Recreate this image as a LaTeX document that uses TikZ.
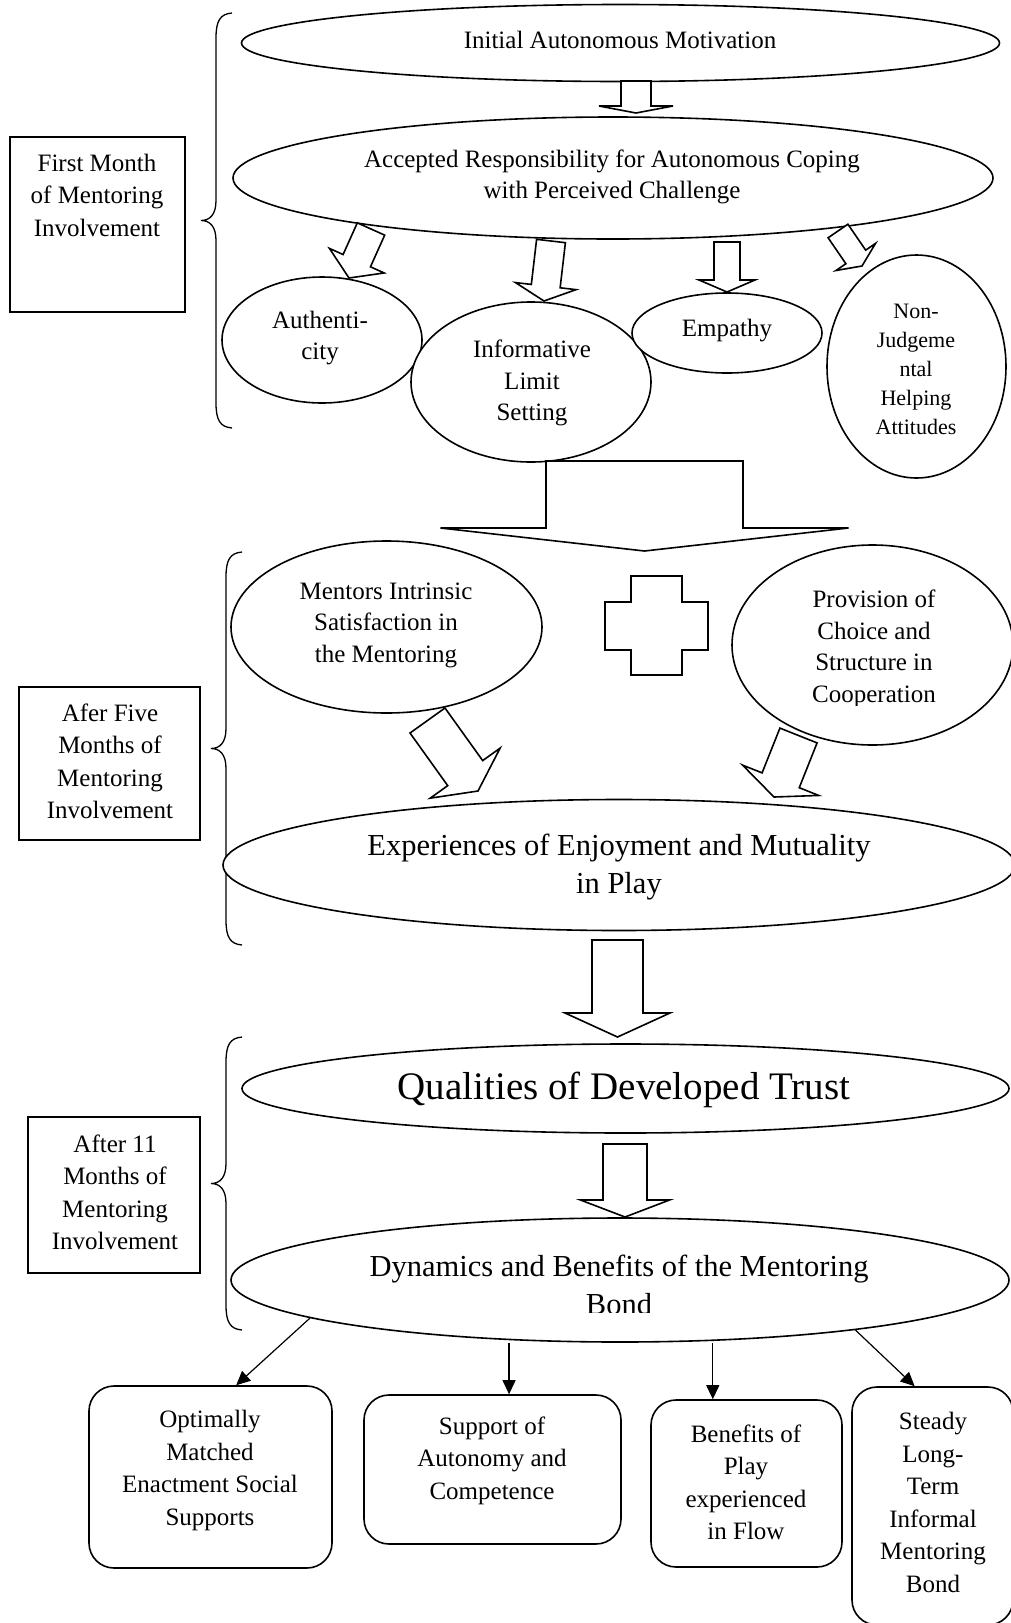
\documentclass[tikz,border=0pt]{standalone}
\usepackage{fontspec}
\setmainfont{Liberation Serif}
\usetikzlibrary{calc,shapes.geometric,arrows.meta}

\tikzset{
  oval/.style={ellipse, draw, line width=1.6pt, fill=white, inner sep=0pt, align=center},
  txt/.style={align=center, inner sep=0pt, font=\fontsize{25}{31.5}\selectfont},
  txtsmall/.style={align=center, inner sep=0pt, font=\fontsize{22}{29}\selectfont},
  txtbig/.style={align=center, inner sep=0pt, font=\fontsize{30.5}{38.5}\selectfont},
  txthuge/.style={align=center, inner sep=0pt, font=\fontsize{39}{46}\selectfont},
  txtbox/.style={align=center, inner sep=0pt, font=\fontsize{25}{32.5}\selectfont},
  sidebox/.style={draw, line width=1.6pt, inner sep=0pt},
  outbox/.style={draw, line width=1.6pt, rounded corners=25pt, inner sep=0pt},
  hollow/.style={draw, line width=1.6pt, fill=white, line join=miter},
  link/.style={line width=1.2pt, -{Triangle[length=14pt,width=13pt]}},
  bracestroke/.style={line width=1.3pt},
}

% hollow block arrow: #1 start (middle of shaft end), #2 tip,
% #3 shaft half width, #4 head half width, #5 head length
\newcommand\hollowarrow[5]{%
  \coordinate (ha-base) at ($(#2)!#5!(#1)$);
  \draw[hollow] ($(#1)!#3!90:(#2)$) -- ($(ha-base)!#3!90:(#2)$)
    -- ($(ha-base)!#4!90:(#2)$) -- (#2) -- ($(ha-base)!#4!-90:(#2)$)
    -- ($(ha-base)!#3!-90:(#2)$) -- ($(#1)!#3!-90:(#2)$) -- cycle;
}

% curly brace opening to the right: #1 x of the ends, #2 top, #3 bottom
\newcommand\sidebrace[3]{%
  \draw[bracestroke] (#1,#2) .. controls ({#1-12},{#2+1}) and ({#1-16},{#2+8}) .. ({#1-16},{#2+25})
    -- ({#1-16},{(#2+#3)/2-20}) .. controls ({#1-16},{(#2+#3)/2-6}) and ({#1-22},{(#2+#3)/2}) .. ({#1-31},{(#2+#3)/2})
    .. controls ({#1-22},{(#2+#3)/2}) and ({#1-16},{(#2+#3)/2+6}) .. ({#1-16},{(#2+#3)/2+20})
    -- ({#1-16},{#3-25}) .. controls ({#1-16},{#3-8}) and ({#1-12},{#3-1}) .. (#1,#3);
}

\begin{document}
\begin{tikzpicture}[x=1pt,y=-1pt]
\useasboundingbox (0,0) rectangle (1011,1623);
\fill[white] (0,0) rectangle (1011,1623);
\clip (0,0) rectangle (1011,1623);

% ---------- first month ----------
\node[oval, minimum width=758pt, minimum height=77pt] (init) at (620.5,43) {};
\node[txt] (init-t) at (620,40) {Initial Autonomous Motivation};

\node[oval, minimum width=760pt, minimum height=122pt] (acc) at (613,178) {};
\node[txt] (acc-t) at (612,177) {Accepted Responsibility for Autonomous Coping\\with Perceived Challenge};

\node[oval, minimum width=200pt, minimum height=126pt] (auth) at (322,340) {};
\node[txt] (auth-t) at (320,338) {Authenti-\\city};

\node[oval, minimum width=240pt, minimum height=160pt] (info) at (531,382) {};
\begin{scope}
  \clip (400,300) rectangle (660,425);
  \node[txt] (info-t) at (532,383) {Informative\\Limit\\Setting};
\end{scope}

\node[oval, minimum width=190pt, minimum height=80pt] (emp) at (727,333) {};
\node[txt] (emp-t) at (727,331) {Empathy};

\node[oval, minimum width=179pt, minimum height=223pt] (nonj) at (916.5,366.5) {};
\node[txtsmall] (nonj-t) at (916,369) {Non-\\Judgeme\\ntal\\Helping\\Attitudes};

\node[sidebox, minimum width=175pt, minimum height=175pt] (m1) at (97.5,224.5) {};
\node[txtbox] (m1-t) at (97,195) {First Month\\of Mentoring\\Involvement};
\sidebrace{232}{13}{428}

\coordinate (a0s) at (636,81);   \coordinate (a0t) at (636,113);
\coordinate (a1s) at (371,229);  \coordinate (a1t) at (349,278);
\coordinate (a2s) at (551,241);  \coordinate (a2t) at (544,301);
\coordinate (a3s) at (727,242);  \coordinate (a3t) at (727,292);
\coordinate (a4s) at (838,231);  \coordinate (a4t) at (862,266);
\hollowarrow{a0s}{a0t}{15pt}{37pt}{7pt}
\hollowarrow{a1s}{a1t}{15pt}{30pt}{19pt}
\hollowarrow{a2s}{a2t}{14.5pt}{30.5pt}{15pt}
\hollowarrow{a3s}{a3t}{13pt}{28pt}{12pt}
\hollowarrow{a4s}{a4t}{12pt}{24pt}{11pt}

% ---------- after five months ----------
\coordinate (bigs) at (644.5,461); \coordinate (bigt) at (644.5,551);
\hollowarrow{bigs}{bigt}{98.5pt}{204pt}{23pt}

\node[oval, minimum width=311pt, minimum height=172pt] (ment) at (386.5,627) {};
\node[txt] (ment-t) at (386,625) {Mentors Intrinsic\\Satisfaction in\\the Mentoring};

\draw[line width=1.6pt] (631,576) -- (682,576) -- (682,602) -- (708,602) -- (708,650)
  -- (682,650) -- (682,675) -- (631,675) -- (631,650) -- (605,650) -- (605,602)
  -- (631,602) -- cycle;

\node[oval, minimum width=281pt, minimum height=200pt] (prov) at (872.5,645) {};
\begin{scope}
  \clip (740,560) rectangle (1011,705);
  \node[txt] (prov-t) at (874,649) {Provision of\\Choice and\\Structure in\\Cooperation};
\end{scope}

\node[sidebox, minimum width=181pt, minimum height=153pt] (m2) at (109.5,763.5) {};
\node[txtbox] (m2-t) at (110,761.5) {Afer Five\\Months of\\Mentoring\\Involvement};
\sidebrace{242}{552}{945}

\node[oval, minimum width=792pt, minimum height=131pt] (exp) at (619,865) {};
\node[txtbig] (exp-t) at (619,867) {Experiences of Enjoyment and Mutuality\\in Play};

\coordinate (a5s) at (427.5,720.5); \coordinate (a5t) at (478,791);
\coordinate (a6s) at (798.5,735.5); \coordinate (a6t) at (774,797);
\hollowarrow{a5s}{a5t}{21.5pt}{43pt}{22pt}
\hollowarrow{a6s}{a6t}{20pt}{41pt}{18pt}

\coordinate (a7s) at (617.5,940); \coordinate (a7t) at (617.5,1037);
\hollowarrow{a7s}{a7t}{25.5pt}{52.5pt}{24pt}

% ---------- after eleven months ----------
\node[oval, minimum width=767pt, minimum height=89pt] (qual) at (625.5,1088.5) {};
\node[txthuge] (qual-t) at (624,1090) {Qualities of Developed Trust};

\coordinate (a8s) at (625,1144); \coordinate (a8t) at (625,1217);
\hollowarrow{a8s}{a8t}{22pt}{44.5pt}{17pt}

\node[oval, minimum width=778pt, minimum height=124pt] (dyn) at (620,1280) {};
\begin{scope}
  \clip (240,1220) rectangle (1000,1312);
  \node[txtbig] (dyn-t) at (619,1285) {Dynamics and Benefits of the Mentoring\\Bond};
\end{scope}

\node[sidebox, minimum width=172pt, minimum height=156pt] (m3) at (114,1195) {};
\node[txtbox] (m3-t) at (115,1192.5) {After 11\\Months of\\Mentoring\\Involvement};
\sidebrace{242}{1037}{1330}

% ---------- outcomes ----------
\node[outbox, minimum width=243pt, minimum height=182pt] (b1) at (210.5,1477) {};
\node[txtbox] (b1-t) at (210,1470.5) {Optimally\\Matched\\Enactment Social\\Supports};

\node[outbox, minimum width=257pt, minimum height=149pt] (b2) at (492.5,1469.5) {};
\node[txtbox] (b2-t) at (492,1460.5) {Support of\\Autonomy and\\Competence};

\node[outbox, minimum width=191pt, minimum height=167pt] (b3) at (746.5,1483.5) {};
\node[txtbox] (b3-t) at (746,1482.5) {Benefits of\\Play\\experienced\\in Flow};

\node[outbox, minimum width=161pt, minimum height=238pt] (b4) at (932.5,1506) {};
\node[txtbox] (b4-t) at (933,1502.5) {Steady\\Long-\\Term\\Informal\\Mentoring\\Bond};

\coordinate (t1) at ($(b1.north west)!0.605!(b1.north east)$);
\coordinate (t2) at ($(b2.north west)!0.564!(b2.north east)$);
\coordinate (t3) at ($(b3.north west)!0.325!(b3.north east)$);
\coordinate (t4) at ($(b4.north west)!0.39!(b4.north east)$);
\draw[link] (dyn.187.4) -- (t1);
\draw[link] (dyn.south -| t2) -- (t2);
\draw[link] (dyn.south -| t3) -- (t3);
\draw[link] (dyn.-12.2) -- (t4);
\end{tikzpicture}
\end{document}
